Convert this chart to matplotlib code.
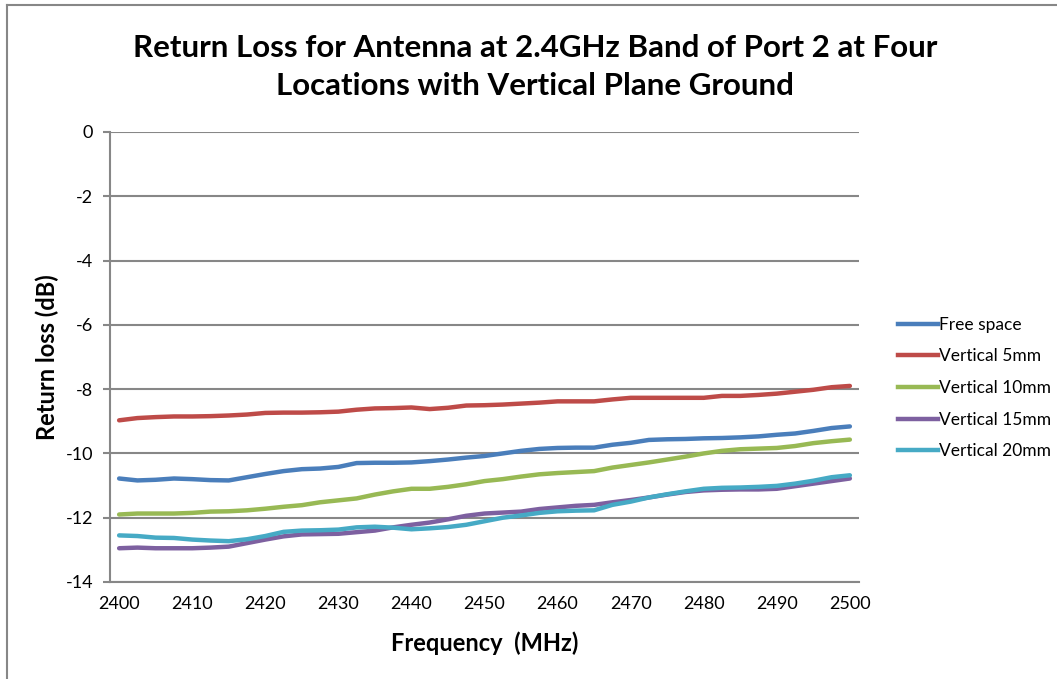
import numpy as np
import matplotlib
matplotlib.use("Agg")
import matplotlib.pyplot as plt
from matplotlib.lines import Line2D

plt.rcParams['font.family'] = ['Lato', 'DejaVu Sans']
plt.rcParams['axes.unicode_minus'] = False

# frequency points (MHz), 2.5 MHz step
freq = np.arange(2400, 2500.1, 2.5)

free_space = [-10.78, -10.84, -10.82, -10.78, -10.80, -10.83, -10.84, -10.74, -10.64, -10.55,
              -10.49, -10.47, -10.42, -10.30, -10.29, -10.29, -10.28, -10.24, -10.19, -10.13,
              -10.08, -10.00, -9.92, -9.86, -9.83, -9.82, -9.82, -9.73, -9.67, -9.58,
              -9.56, -9.55, -9.53, -9.52, -9.50, -9.47, -9.42, -9.38, -9.30, -9.21, -9.16]
vert_5 = [-8.97, -8.90, -8.87, -8.85, -8.85, -8.84, -8.82, -8.79, -8.74, -8.73,
          -8.73, -8.72, -8.70, -8.64, -8.60, -8.59, -8.57, -8.62, -8.58, -8.51,
          -8.50, -8.48, -8.45, -8.42, -8.38, -8.38, -8.38, -8.32, -8.27, -8.27,
          -8.27, -8.27, -8.27, -8.21, -8.21, -8.18, -8.14, -8.08, -8.02, -7.94, -7.90]
vert_10 = [-11.90, -11.87, -11.87, -11.87, -11.85, -11.81, -11.80, -11.77, -11.72, -11.66,
           -11.61, -11.52, -11.46, -11.40, -11.28, -11.18, -11.10, -11.10, -11.04, -10.96,
           -10.86, -10.80, -10.72, -10.65, -10.61, -10.58, -10.55, -10.44, -10.36, -10.28,
           -10.19, -10.10, -10.00, -9.92, -9.87, -9.85, -9.83, -9.77, -9.68, -9.62, -9.57]
vert_15 = [-12.95, -12.93, -12.95, -12.95, -12.95, -12.93, -12.90, -12.79, -12.68, -12.58,
           -12.52, -12.51, -12.50, -12.45, -12.40, -12.30, -12.22, -12.15, -12.05, -11.94,
           -11.87, -11.84, -11.81, -11.73, -11.68, -11.63, -11.60, -11.52, -11.45, -11.37,
           -11.28, -11.20, -11.15, -11.13, -11.12, -11.12, -11.10, -11.02, -10.94, -10.86, -10.78]
vert_20 = [-12.55, -12.57, -12.62, -12.63, -12.68, -12.71, -12.73, -12.67, -12.57, -12.44,
           -12.40, -12.39, -12.37, -12.30, -12.28, -12.31, -12.36, -12.33, -12.29, -12.22,
           -12.11, -12.00, -11.93, -11.85, -11.80, -11.78, -11.77, -11.60, -11.50, -11.37,
           -11.27, -11.18, -11.10, -11.07, -11.06, -11.04, -11.01, -10.94, -10.85, -10.74, -10.68]

labels = ['Free space', 'Vertical 5mm', 'Vertical 10mm', 'Vertical 15mm', 'Vertical 20mm']
colors = ['#4A7EBB', '#BE4B48', '#98B954', '#7D60A0', '#46AAC5']
series = [free_space, vert_5, vert_10, vert_15, vert_20]

fig = plt.figure(figsize=(10.57, 6.79), dpi=100)
ax = fig.add_axes([110/1057, 1-582/679, (859-110)/1057, (582-132)/679])

for y, lab, col in zip(series, labels, colors):
    ax.plot(freq, y, color=col, lw=3.2, label=lab, solid_capstyle='round')

ax.set_xlim(2400-1.25, 2500+1.25)
ax.set_ylim(-14, 0)
ax.set_xticks(np.arange(2400, 2501, 10))
ax.set_yticks(np.arange(-14, 1, 2))
ax.grid(axis='y', color='#878787', lw=1.5)
ax.set_axisbelow(True)
for s in ['top', 'right']:
    ax.spines[s].set_visible(False)
for s in ['left', 'bottom']:
    ax.spines[s].set_color('#878787')
    ax.spines[s].set_linewidth(1.5)
ax.tick_params(axis='y', length=5, width=1.5, color='#878787', labelsize=13, pad=7)
ax.tick_params(axis='x', length=0, labelsize=13, pad=10)

ax.set_xlabel('Frequency  (MHz)', fontsize=17, fontweight='bold', labelpad=14)
ax.set_ylabel('Return loss (dB)', fontsize=17, fontweight='bold', labelpad=5)

fig.text(535/1057, 1-67/679, 'Return Loss for Antenna at 2.4GHz Band of Port 2 at Four\nLocations with Vertical Plane Ground',
         ha='center', va='center', fontsize=22.5, fontweight='bold', linespacing=1.45)

handles = [Line2D([], [], color=c, lw=3.2) for c in colors]
fig.legend(handles, labels, loc='center left', bbox_to_anchor=(882/1057, 1-388/679),
           frameon=False, fontsize=12.5, handlelength=2.3, handletextpad=0.1, labelspacing=0.9)

# outer chart border
fig.add_artist(Line2D([7/1057, 7/1057], [0, 1-5/679], color='#878787', lw=1.5))
fig.add_artist(Line2D([7/1057, 1], [1-5/679, 1-5/679], color='#878787', lw=1.5))

fig.savefig('out.png', dpi=100)
